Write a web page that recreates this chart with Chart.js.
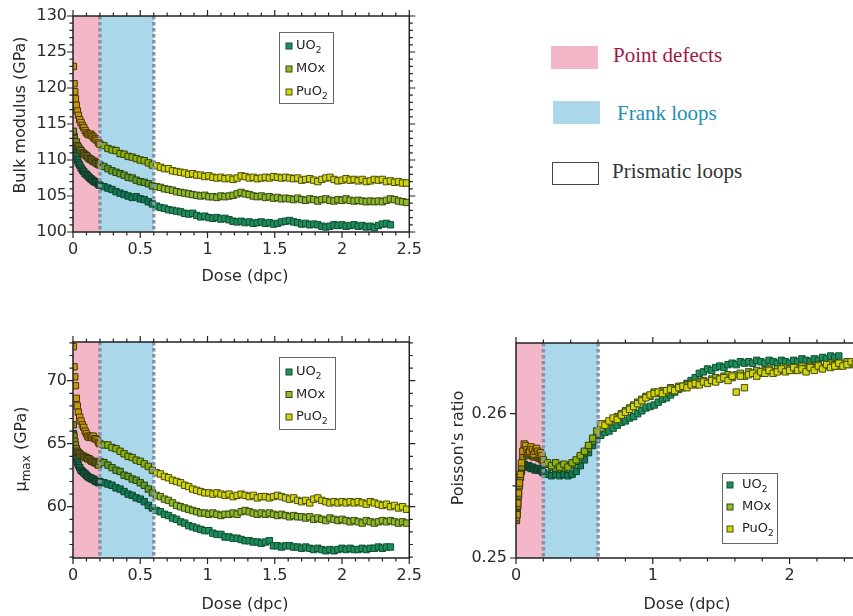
<!DOCTYPE html>
<html>
<head>
<meta charset="utf-8">
<script src="https://cdn.jsdelivr.net/npm/chart.js"></script>
<style>
  html, body { margin: 0; padding: 0; background: #fff; overflow: hidden; }
  #page { position: relative; width: 853px; height: 616px; overflow: hidden; }
  canvas { position: absolute; }
  .key-swatch { position: absolute; width: 47px; height: 23px; box-sizing: border-box; }
  .key-text { position: absolute; font-family: 'Liberation Serif', serif; font-size: 21px; line-height: 21px; white-space: nowrap; }
</style>
</head>
<body>
<div id="page">
  <canvas id="bulk" width="430" height="295" style="left:0;top:0"></canvas>
  <canvas id="shear" width="430" height="296" style="left:0;top:320px"></canvas>
  <canvas id="poisson" width="430" height="296" style="left:440px;top:320px"></canvas>
</div>
<script>
// dose values (dpc) shared by every series
const dose = [
  0.003, 0.008, 0.013, 0.018, 0.025, 0.032, 0.04, 0.05, 0.06, 0.07, 0.08, 0.09, 0.1, 0.11, 0.12, 0.13, 0.14, 0.15, 0.16, 0.17, 0.18, 0.19,
  0.2, 0.23, 0.26, 0.29, 0.32, 0.35, 0.38, 0.41, 0.44, 0.47,
  0.5, 0.53, 0.56, 0.59, 0.62, 0.65, 0.68, 0.71, 0.74, 0.77,
  0.8, 0.83, 0.86, 0.89, 0.92, 0.95, 0.98, 1.01, 1.04, 1.07,
  1.1, 1.13, 1.16, 1.19, 1.22, 1.25, 1.28, 1.31, 1.34, 1.37,
  1.4, 1.43, 1.46, 1.49, 1.52, 1.55, 1.58, 1.61, 1.64, 1.67,
  1.7, 1.73, 1.76, 1.79, 1.82, 1.85, 1.88, 1.91, 1.94, 1.97,
  2.0, 2.03, 2.06, 2.09, 2.12, 2.15, 2.18, 2.21, 2.24, 2.27,
  2.3, 2.33, 2.36, 2.39, 2.42, 2.45, 2.48
];

const seriesNames = ['UO_2', 'MOx', 'PuO_2'];
const seriesFill = ['#1f8e5c', '#8dbb2a', '#d0d60c'];
const seriesEdge = ['#0e4f31', '#3b4712', '#4c4a0a'];

// regions of the damage sequence
const phaseNames = ['Point defects', 'Frank loops', 'Prismatic loops'];
const phaseEdges = [0, 0.2, 0.6, 2.5];
const phaseFill = ['#f4b7c7', '#aad7ea', '#ffffff'];
const phaseInk = ['#a3173f', '#1e8fb6', '#333333'];

// Bulk modulus (GPa)
const bulkUO2 = [
  117.0, 113.3, 112.4, 111.5, 110.6, 110.0, 109.6, 109.3, 108.9, 108.6, 108.4, 108.1, 108.0, 107.8, 107.6, 107.4, 107.3, 107.1, 107.0, 106.9, 106.8, 106.6,
  106.5, 106.3, 106.1, 105.9, 105.6, 105.4, 105.2, 105.0, 104.8, 104.9,
  104.6, 104.5, 104.2, 103.9, 103.6, 103.4, 103.3, 103.1, 103.0, 102.9,
  102.8, 102.6, 102.5, 102.6, 102.3, 102.1, 102.2, 102.0, 101.9, 102.0,
  101.8, 101.9, 101.7, 101.5, 101.4, 101.5, 101.3, 101.4, 101.2, 101.3,
  101.4, 101.2, 101.3, 101.1, 101.2, 101.4, 101.5, 101.6, 101.4, 101.3,
  101.1, 101.2, 101.0, 101.1, 101.0, 100.8, 100.7, 100.8, 101.0, 100.9,
  101.0, 100.8, 100.9, 101.0, 100.8, 100.9, 100.7, 100.8, 100.6, 100.9,
  101.1, 101.2, 101.0, null, null, null, null
];
const bulkMOx = [
  114.0, 113.0, 112.6, 112.2, 112.5, 112.0, 111.8, 111.5, 111.3, 111.0, 110.9, 110.7, 110.6, 110.4, 110.2, 110.1, 110.0, 109.8, 109.8, 109.6, 109.5, 109.4,
  109.3, 109.1, 108.8, 108.5, 108.3, 108.1, 107.9, 107.6, 107.5, 107.2,
  107.0, 106.9, 106.7, 106.4, 106.3, 106.2, 106.0, 105.9, 105.8, 105.6,
  105.5, 105.4, 105.3, 105.2, 105.1, 105.0, 105.1, 104.9, 104.9, 104.8,
  105.0, 104.9, 105.0, 105.1, 105.3, 105.5, 105.3, 105.2, 105.0, 104.9,
  105.0, 104.8, 104.9, 104.7, 104.8, 104.6, 104.7, 104.6, 104.5, 104.7,
  104.5, 104.4, 104.6, 104.5, 104.3, 104.5, 104.6, 104.4, 104.3, 104.5,
  104.4, 104.6, 104.4, 104.3, 104.4, 104.3, 104.2, 104.3, 104.2, 104.3,
  104.2, 104.4, 104.6, 104.5, 104.3, 104.2, 104.1
];
const bulkPuO2 = [
  123.0, 120.6, 119.5, 118.5, 117.6, 116.8, 116.2, 115.6, 115.2, 114.8, 114.5, 114.1, 113.8, 113.6, 113.5, 113.6, 113.4, 113.2, 113.0, 112.9, 112.7, 112.4,
  112.2, 112.0, 111.6, 111.4, 111.3, 110.9, 110.8, 110.5, 110.4, 110.2,
  110.0, 109.9, 109.6, 109.3, 109.2, 109.0, 108.8, 108.8, 108.5, 108.4,
  108.3, 108.2, 108.0, 108.1, 107.9, 107.9, 107.7, 107.8, 107.6, 107.5,
  107.6, 107.4, 107.5, 107.3, 107.5, 107.8, 107.7, 107.5, 107.6, 107.4,
  107.5, 107.6, 107.5, 107.7, 107.6, 107.5, 107.6, 107.5, 107.4, 107.5,
  107.2, 107.3, 107.4, 107.2, 107.0, 107.3, 107.5, 107.6, 107.3, 107.1,
  107.2, 107.4, 107.2, 107.3, 107.1, 107.3, 107.0, 107.1, 107.3, 107.2,
  107.3, 107.0, 107.1, 106.9, 107.0, 106.8, 106.8
];

// mu_max (GPa)
const muUO2 = [
  65.8, 65.0, 64.5, 64.1, 63.8, 63.5, 63.3, 63.1, 62.9, 62.8, 62.7, 62.6, 62.5, 62.4, 62.3, 62.3, 62.2, 62.2, 62.1, 62.0, 62.0, 61.9,
  62.0, 61.9, 61.8, 61.7, 61.5, 61.4, 61.2, 61.0, 60.9, 60.7,
  60.6, 60.4, 60.1, 59.9, 59.7, 59.6, 59.4, 59.3, 59.1, 59.0,
  58.8, 58.7, 58.5, 58.4, 58.3, 58.2, 58.1, 58.1, 57.9, 57.8,
  57.8, 57.6, 57.6, 57.5, 57.5, 57.4, 57.3, 57.3, 57.2, 57.2,
  57.1, 57.2, 57.3, 56.9, 56.9, 56.8, 56.9, 56.9, 56.8, 56.8,
  56.7, 56.8, 56.7, 56.6, 56.7, 56.6, 56.5, 56.6, 56.5, 56.6,
  56.7, 56.6, 56.7, 56.6, 56.6, 56.7, 56.6, 56.7, 56.7, 56.8,
  56.7, 56.8, 56.8, null, null, null, null
];
const muMOx = [
  66.5, 65.6, 65.2, 64.9, 64.6, 64.4, 64.3, 64.2, 64.1, 64.0, 64.0, 63.9, 63.9, 63.8, 63.8, 63.7, 63.6, 63.6, 63.5, 63.5, 63.4, 63.3,
  63.6, 63.5, 63.3, 63.1, 62.9, 62.8, 62.5, 62.4, 62.2, 62.1,
  61.9, 61.7, 61.4, 61.1, 60.9, 60.8, 60.6, 60.5, 60.3, 60.1,
  60.0, 59.9, 59.8, 59.7, 59.6, 59.5, 59.5, 59.4, 59.5, 59.4,
  59.3, 59.4, 59.4, 59.5, 59.4, 59.6, 59.7, 59.6, 59.5, 59.4,
  59.5, 59.4, 59.5, 59.4, 59.3, 59.4, 59.3, 59.2, 59.3, 59.2,
  59.2, 59.1, 59.2, 59.0, 59.1, 59.0, 58.9, 59.1, 59.0, 58.9,
  59.0, 58.9, 58.8, 58.9, 58.8, 58.7, 58.9, 58.8, 58.7, 58.8,
  58.9, 58.8, 58.9, 58.8, 58.7, 58.8, 58.7
];
const muPuO2 = [
  72.7, 71.1, 70.3, 69.6, 68.6, 68.0, 67.5, 67.1, 66.8, 66.5, 66.3, 66.0, 65.8, 65.6, 65.5, 65.6, 65.5, 65.6, 65.4, 65.4, 65.3, 65.1,
  65.0, 64.9, 64.9, 64.7, 64.6, 64.4, 64.2, 64.0, 63.9, 63.7,
  63.6, 63.4, 63.2, 62.9, 62.7, 62.6, 62.4, 62.3, 62.1, 62.0,
  61.9, 61.7, 61.6, 61.4, 61.3, 61.2, 61.1, 61.1, 61.0, 61.1,
  61.0, 60.9, 61.0, 60.8, 60.9, 61.0, 60.9, 60.8, 60.9, 60.7,
  60.8, 60.8, 60.7, 60.8, 60.9, 60.8, 60.7, 60.6, 60.7, 60.5,
  60.4, 60.5, 60.3, 60.6, 60.7, 60.5, 60.4, 60.3, 60.4, 60.3,
  60.4, 60.3, 60.4, 60.3, 60.4, 60.3, 60.2, 60.4, 60.3, 60.2,
  60.1, 60.2, 60.0, 60.1, 59.9, 60.0, 59.8
];

// Poisson's ratio
const nuUO2 = [
  0.2527, 0.2533, 0.2540, 0.2546, 0.2552, 0.2556, 0.2560, 0.2563, 0.2565, 0.2564, 0.2563, 0.2564, 0.2563, 0.2562, 0.2563, 0.2562, 0.2561, 0.2562, 0.2561, 0.2562, 0.2561, 0.2560,
  0.2559, 0.2558, 0.2557, 0.2558, 0.2557, 0.2558, 0.2557, 0.2558, 0.2560, 0.2564,
  0.2568, 0.2573, 0.2578, 0.2582, 0.2585, 0.2587, 0.2588, 0.2590, 0.2592, 0.2594,
  0.2595, 0.2597, 0.2598, 0.2600, 0.2602, 0.2604, 0.2605, 0.2606, 0.2608, 0.2610,
  0.2611, 0.2613, 0.2615, 0.2617, 0.2619, 0.2621, 0.2623, 0.2625, 0.2628, 0.2629,
  0.2631, 0.2630, 0.2632, 0.2633, 0.2632, 0.2634, 0.2635, 0.2634, 0.2636, 0.2635,
  0.2636, 0.2635, 0.2637, 0.2636, 0.2635, 0.2637, 0.2636, 0.2635, 0.2637, 0.2636,
  0.2635, 0.2637, 0.2636, 0.2638, 0.2637, 0.2636, 0.2638, 0.2637, 0.2639, 0.2638,
  0.2640, 0.2639, 0.2640, null, null, null, null
];
const nuMOx = [
  0.2526, 0.2531, 0.2536, 0.2543, 0.2550, 0.2556, 0.2563, 0.2570, 0.2575, 0.2574, 0.2572, 0.2571, 0.2572, 0.2573, 0.2571, 0.2570, 0.2571, 0.2572, 0.2570, 0.2569, 0.2570, 0.2568,
  0.2566, 0.2565, 0.2563, 0.2562, 0.2564, 0.2562, 0.2564, 0.2565, 0.2567, 0.2570,
  0.2573, 0.2576, 0.2581, 0.2586, 0.2590, 0.2593, 0.2594, 0.2596, 0.2598, 0.2600,
  0.2602, 0.2604, 0.2606, 0.2608, 0.2610, 0.2612, 0.2612, 0.2615, 0.2614, 0.2616,
  0.2615, 0.2618, 0.2617, 0.2619, 0.2618, 0.2620, 0.2621, 0.2620, 0.2622, 0.2623,
  0.2622, 0.2624, 0.2625, 0.2624, 0.2626, 0.2627, 0.2625, 0.2627, 0.2628, 0.2626,
  0.2629, 0.2628, 0.2630, 0.2628, 0.2630, 0.2631, 0.2629, 0.2631, 0.2630, 0.2632,
  0.2631, 0.2630, 0.2632, 0.2633, 0.2631, 0.2633, 0.2632, 0.2634, 0.2632, 0.2633,
  0.2635, 0.2634, 0.2633, 0.2635, 0.2636, 0.2634, 0.2636
];
const nuPuO2 = [
  0.2528, 0.2530, 0.2538, 0.2545, 0.2552, 0.2558, 0.2566, 0.2574, 0.2579, 0.2578, 0.2575, 0.2573, 0.2574, 0.2577, 0.2575, 0.2572, 0.2574, 0.2576, 0.2574, 0.2572, 0.2573, 0.2571,
  0.2568, 0.2566, 0.2564, 0.2566, 0.2563, 0.2565, 0.2563, 0.2566, 0.2568, 0.2571,
  0.2574, 0.2578, 0.2583, 0.2588, 0.2593, 0.2592, 0.2595, 0.2597, 0.2596, 0.2599,
  0.2601, 0.2603, 0.2605, 0.2607, 0.2609, 0.2611, 0.2613, 0.2614, 0.2615, 0.2614,
  0.2616, 0.2617, 0.2616, 0.2618, 0.2619, 0.2618, 0.2620, 0.2621, 0.2620, 0.2622,
  0.2621, 0.2623, 0.2622, 0.2624, 0.2625, 0.2623, 0.2626, 0.2615, 0.2626, 0.2618,
  0.2627, 0.2628, 0.2626, 0.2629, 0.2628, 0.2630, 0.2628, 0.2629, 0.2631, 0.2629,
  0.2630, 0.2632, 0.2630, 0.2631, 0.2629, 0.2632, 0.2630, 0.2633, 0.2631, 0.2634,
  0.2632, 0.2633, 0.2635, 0.2633, 0.2634, 0.2636, 0.2635
];

const FONT = "'DejaVu Sans', Verdana, sans-serif";
Chart.defaults.font.family = FONT;
Chart.defaults.font.size = 16;
Chart.defaults.color = '#2a2a2a';

// split 'PuO_2' or 'μ_{max} (GPa)' into normal / subscript pieces
function richParts(str) {
  const parts = [];
  const re = /_\{([^}]*)\}|_(\S)/g;
  let last = 0, m;
  while ((m = re.exec(str))) {
    if (m.index > last) parts.push({ t: str.slice(last, m.index) });
    parts.push({ t: m[1] || m[2], sub: true });
    last = re.lastIndex;
  }
  if (last < str.length) parts.push({ t: str.slice(last) });
  return parts;
}

function drawRich(ctx, str, x, y, size, opts) {
  const parts = richParts(str);
  const subSize = Math.round(size * 0.72);
  ctx.save();
  ctx.translate(x, y);
  if (opts.rotate) ctx.rotate(-Math.PI / 2);
  let total = 0;
  parts.forEach(p => {
    ctx.font = (p.sub ? subSize : size) + 'px ' + FONT;
    p.w = ctx.measureText(p.t).width;
    total += p.w;
  });
  let cx = opts.center ? -total / 2 : 0;
  ctx.textBaseline = 'middle';
  ctx.textAlign = 'left';
  ctx.fillStyle = opts.color || '#2a2a2a';
  parts.forEach(p => {
    ctx.font = (p.sub ? subSize : size) + 'px ' + FONT;
    ctx.fillText(p.t, cx, p.sub ? size * 0.32 : 0);
    cx += p.w;
  });
  ctx.restore();
}

const panelDeco = {
  id: 'panelDeco',
  afterDatasetsDraw(chart) {
    const { ctx, chartArea: a } = chart;
    const xs = chart.scales.x;
    // shaded regions are laid over the points
    ctx.save();
    ctx.beginPath();
    ctx.rect(a.left, a.top, a.right - a.left, a.bottom - a.top);
    ctx.clip();
    ctx.globalCompositeOperation = 'multiply';
    for (let i = 0; i < 2; i++) {
      const x0 = xs.getPixelForValue(phaseEdges[i]);
      const x1 = xs.getPixelForValue(phaseEdges[i + 1]);
      ctx.fillStyle = phaseFill[i];
      ctx.fillRect(x0, a.top, x1 - x0, a.bottom - a.top);
    }
    ctx.restore();
    // dotted boundaries
    ctx.save();
    ctx.strokeStyle = '#8894a3';
    ctx.lineWidth = 3.5;
    ctx.setLineDash([3.5, 2.5]);
    [phaseEdges[1], phaseEdges[2]].forEach(v => {
      const px = xs.getPixelForValue(v);
      ctx.beginPath();
      ctx.moveTo(px, a.top);
      ctx.lineTo(px, a.bottom);
      ctx.stroke();
    });
    ctx.restore();
  },
  afterDraw(chart, args, o) {
    const { ctx, chartArea: a } = chart;
    const xs = chart.scales.x, ys = chart.scales.y;
    ctx.save();
    ctx.strokeStyle = '#222';
    ctx.lineWidth = 1.5;
    ctx.strokeRect(a.left, a.top, a.right - a.left, a.bottom - a.top);
    // mirrored outward ticks
    ctx.lineWidth = 1.2;
    ctx.beginPath();
    xs.ticks.forEach(t => {
      const px = xs.getPixelForValue(t.value);
      const len = t.label !== '' ? 6 : 3.5;
      ctx.moveTo(px, a.bottom); ctx.lineTo(px, a.bottom + len);
      ctx.moveTo(px, a.top); ctx.lineTo(px, a.top - len);
    });
    ys.ticks.forEach(t => {
      const py = ys.getPixelForValue(t.value);
      const len = t.label !== '' ? 6 : 3.5;
      ctx.moveTo(a.left, py); ctx.lineTo(a.left - len, py);
      ctx.moveTo(a.right, py); ctx.lineTo(a.right + len, py);
    });
    ctx.stroke();
    ctx.restore();

    drawRich(ctx, o.xTitle.text, o.xTitle.x, o.xTitle.y, 16, { center: true });
    drawRich(ctx, o.yTitle.text, o.yTitle.x, o.yTitle.y, 16, { center: true, rotate: true });

    // boxed series legend
    const L = o.legend;
    ctx.save();
    ctx.fillStyle = '#fff';
    ctx.fillRect(L.x, L.y, L.w, L.h);
    ctx.strokeStyle = '#666';
    ctx.lineWidth = 1;
    ctx.strokeRect(L.x + 0.5, L.y + 0.5, L.w, L.h);
    chart.data.datasets.forEach((ds, i) => {
      const ry = L.row0 + i * L.gap;
      ctx.fillStyle = ds.backgroundColor;
      ctx.strokeStyle = ds.borderColor;
      ctx.fillRect(L.mark - 3, ry - 3, 6, 6);
      ctx.strokeRect(L.mark - 3, ry - 3, 6, 6);
      drawRich(ctx, ds.label, L.text, ry, 13, { color: '#222' });
    });
    ctx.restore();
  }
};

function isStep(v, m) {
  return Math.abs(v / m - Math.round(v / m)) < 1e-6;
}

function makePanel(id, p) {
  const canvas = document.getElementById(id);
  const W = canvas.width, H = canvas.height;
  return new Chart(canvas, {
    type: 'scatter',
    data: {
      datasets: p.values.map((vals, i) => ({
        label: seriesNames[i],
        data: dose.map((d, j) => ({ x: d, y: vals[j] })).filter(pt => pt.y !== null),
        backgroundColor: seriesFill[i],
        borderColor: seriesEdge[i],
        borderWidth: 1,
        pointStyle: 'rect',
        pointRadius: 4.5,
        order: 2 - i
      }))
    },
    options: {
      responsive: false,
      animation: false,
      devicePixelRatio: 1,
      layout: { padding: { left: 0, top: p.area.top, right: W - p.area.right, bottom: 0 } },
      plugins: {
        legend: { display: false },
        tooltip: { enabled: false },
        panelDeco: { xTitle: p.xTitle, yTitle: p.yTitle, legend: p.legend }
      },
      scales: {
        x: {
          type: 'linear', min: 0, max: 2.5,
          grid: { display: false, drawTicks: false }, border: { display: false },
          ticks: {
            stepSize: p.xStep, autoSkip: false, maxRotation: 0, includeBounds: false, padding: 8,
            callback: v => isStep(v, p.xMajor) ? String(Math.round(v * 10) / 10) : ''
          },
          afterFit: s => { s.height = H - p.area.bottom; }
        },
        y: {
          type: 'linear', min: p.yMin, max: p.yMax,
          grid: { display: false, drawTicks: false }, border: { display: false },
          ticks: {
            stepSize: p.yStep, autoSkip: false, includeBounds: false, padding: p.yPad,
            callback: v => isStep(v, p.yMajor) ? p.yFmt(v) : ''
          },
          afterFit: s => { s.width = p.area.left; }
        }
      }
    },
    plugins: [panelDeco]
  });
}

makePanel('bulk', {
  values: [bulkUO2, bulkMOx, bulkPuO2],
  area: { left: 73, right: 417, top: 16, bottom: 232 },
  yMin: 100, yMax: 130, yStep: 1, yMajor: 5, yPad: 6, yFmt: v => String(Math.round(v)),
  xStep: 0.1, xMajor: 0.5,
  xTitle: { text: 'Dose (dpc)', x: 245, y: 277 },
  yTitle: { text: 'Bulk modulus (GPa)', x: 21, y: 115 },
  legend: { x: 279, y: 32, w: 54, h: 71, row0: 46, gap: 23, mark: 289, text: 296 }
});

makePanel('shear', {
  values: [muUO2, muMOx, muPuO2],
  area: { left: 73, right: 417, top: 22, bottom: 238 },
  yMin: 55.93, yMax: 73.07, yStep: 1, yMajor: 5, yPad: 6, yFmt: v => String(Math.round(v)),
  xStep: 0.1, xMajor: 0.5,
  xTitle: { text: 'Dose (dpc)', x: 245, y: 285 },
  yTitle: { text: 'μ_{max} (GPa)', x: 22, y: 129 },
  legend: { x: 279, y: 37, w: 56, h: 72, row0: 52, gap: 22.5, mark: 289, text: 296 }
});

makePanel('poisson', {
  values: [nuUO2, nuMOx, nuPuO2],
  area: { left: 76, right: 418, top: 23, bottom: 238 },
  yMin: 0.25, yMax: 0.2649, yStep: 0.005, yMajor: 0.01, yPad: 9, yFmt: v => v.toFixed(2),
  xStep: 0.2, xMajor: 1,
  xTitle: { text: 'Dose (dpc)', x: 247, y: 285 },
  yTitle: { text: "Poisson's ratio", x: 19, y: 128 },
  legend: { x: 282, y: 153, w: 55, h: 70, row0: 165, gap: 22, mark: 290, text: 302 }
});

// key for the shaded regions
const page = document.getElementById('page');
const keySpots = [
  { left: 551, top: 46, textLeft: 613, textTop: 45 },
  { left: 553, top: 101, textLeft: 617, textTop: 103 },
  { left: 552, top: 162, textLeft: 612, textTop: 161 }
];
phaseNames.forEach((name, i) => {
  const sw = document.createElement('div');
  sw.className = 'key-swatch';
  sw.style.left = keySpots[i].left + 'px';
  sw.style.top = keySpots[i].top + 'px';
  sw.style.background = phaseFill[i];
  if (i === 2) sw.style.border = '1.5px solid #444';
  page.appendChild(sw);
  const tx = document.createElement('div');
  tx.className = 'key-text';
  tx.style.left = keySpots[i].textLeft + 'px';
  tx.style.top = keySpots[i].textTop + 'px';
  tx.style.color = phaseInk[i];
  tx.textContent = name;
  page.appendChild(tx);
});
</script>
</body>
</html>
